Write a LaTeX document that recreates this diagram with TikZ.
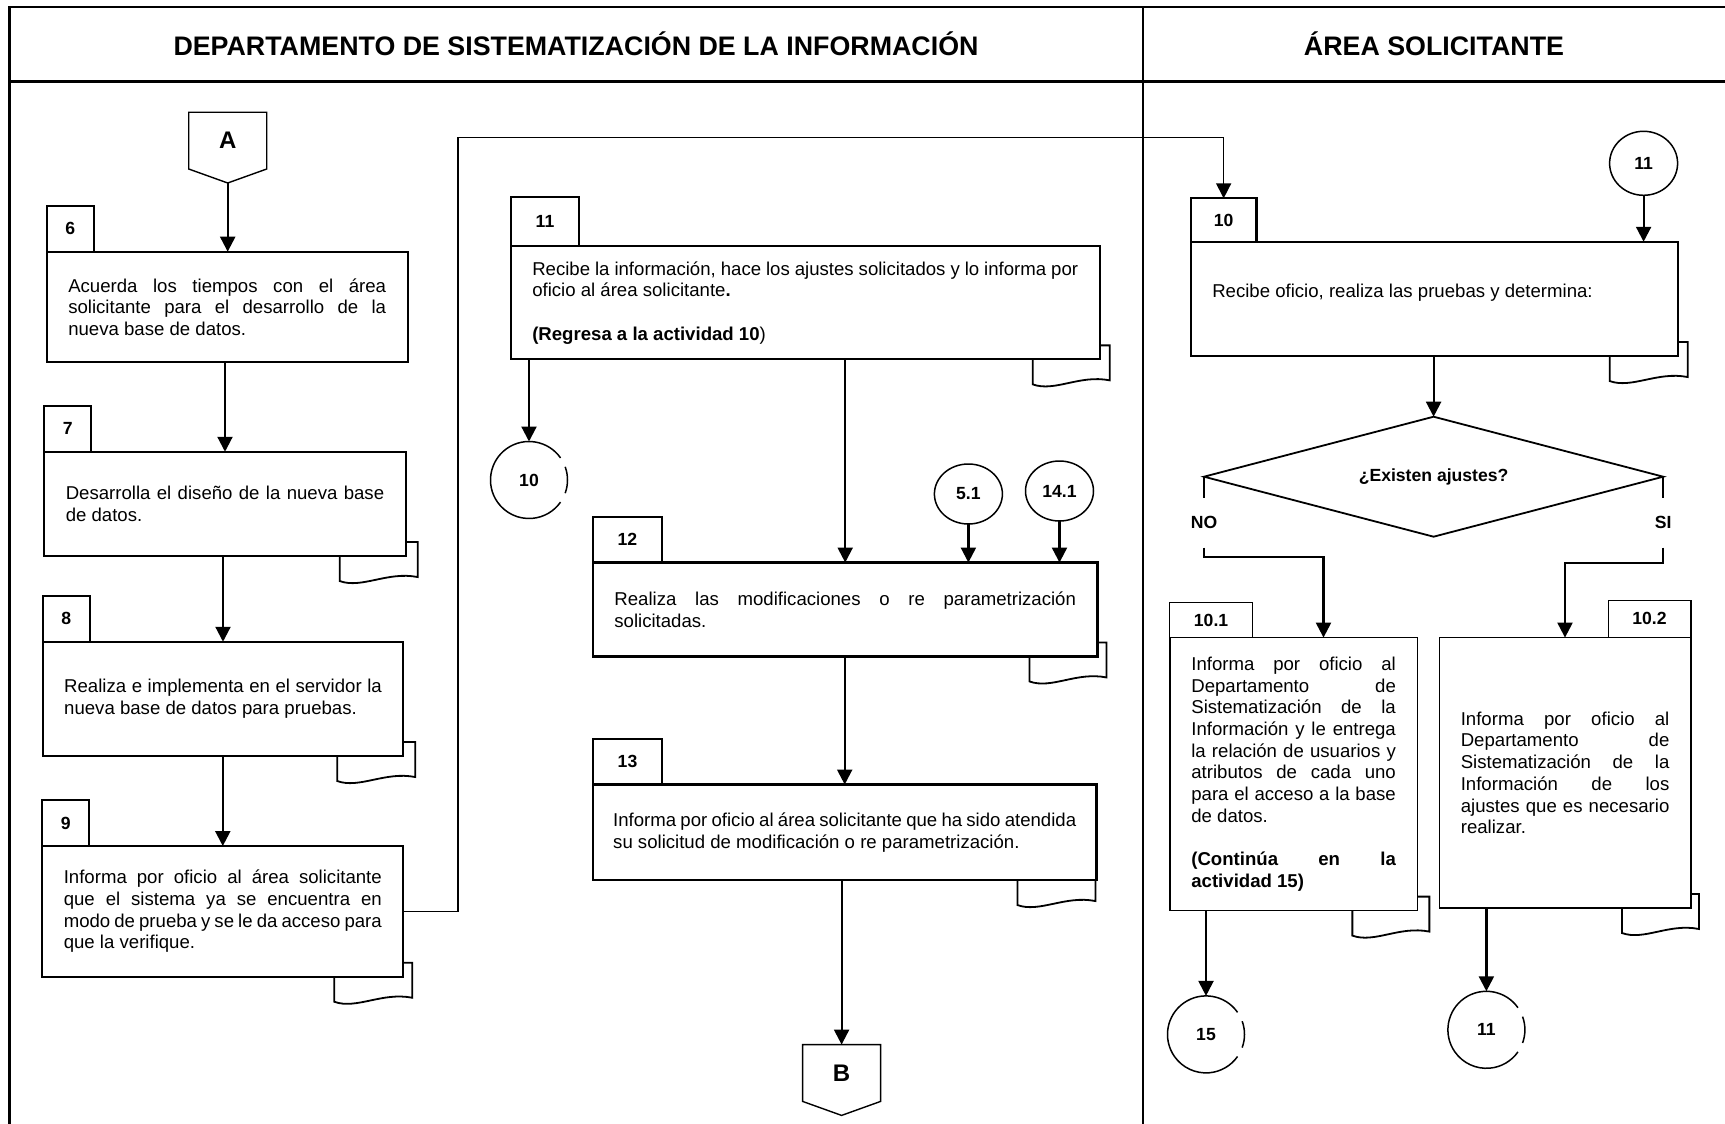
\documentclass[tikz,border=0pt]{standalone}
\usepackage{fontspec}
\setmainfont{Liberation Sans}
\usetikzlibrary{arrows.meta,positioning,shapes.geometric,backgrounds}

\newcommand{\bodyfont}{\fontsize{9.3}{10.85}\selectfont}
\newcommand{\labelfont}{\fontsize{8.8}{10}\selectfont\bfseries}
\newcommand{\docflap}[3]{%
  \fill[white,draw=black,line width=0.9pt,shift={(#1.south east)}]
    (#3,-14) -- (#2,-14) -- (#2,21) .. controls ({#2-30},15) and ({#3+22},33) .. (#3,25) -- cycle;}

\begin{document}
\begin{tikzpicture}[
  x=0.5pt,y=-0.5pt,
  frame/.style={line width=1.35pt},
  lanetitle/.style={font=\fontsize{13.4}{15}\selectfont\bfseries},
  stepbox/.style={draw,line width=1.1pt,fill=white,inner xsep=10.75pt,inner ysep=0pt,outer sep=0pt,align=justify,font=\bodyfont},
  numtab/.style={draw,line width=1.1pt,fill=white,inner sep=0pt,outer sep=0pt,font=\labelfont},
  offpage/.style={minimum width=39pt,minimum height=28.4pt,inner sep=0pt,outer sep=0pt,font=\fontsize{12}{14}\selectfont\bfseries},
  ring/.style={circle,minimum size=38.5pt,inner sep=0pt,outer sep=0pt,font=\labelfont},
  oval/.style={ellipse,draw,line width=0.75pt,minimum width=34pt,minimum height=30pt,inner sep=0pt,outer sep=0pt,font=\labelfont},
  decision/.style={diamond,draw,line width=0.9pt,aspect=3.8,minimum width=229.6pt,minimum height=60pt,inner sep=0pt,outer sep=0pt,font=\labelfont},
  branchlbl/.style={inner sep=0pt,minimum height=24.35pt,font=\labelfont},
  flow/.style={-{Triangle[length=7.5pt,width=7.5pt]},line width=1.1pt},
  link/.style={-{Triangle[length=7.5pt,width=7.5pt]},line width=0.75pt},
  wire/.style={line width=1.1pt}
]
\useasboundingbox (0,0) rectangle (1725,1124);
\draw[frame] (9.5,1124) -- (9.5,7) -- (1725,7);
\draw[frame] (9.5,81.7) -- (1725,81.7);
\draw[frame] (1143,7) -- (1143,1124);
\node[lanetitle] (hdsi) at (576,44) {DEPARTAMENTO DE SISTEMATIZACIÓN DE LA INFORMACIÓN};
\node[lanetitle] (hsol) at (1434,44) {ÁREA SOLICITANTE};

\node[offpage] (conA) at (227.7,140.6) {A};
\node[stepbox,text width=158.95pt,minimum height=55.3pt] (b6) at (227.2,307) {Acuerda los tiempos con el área\linebreak solicitante para el desarrollo de la\linebreak nueva base de datos.};
\node[numtab,minimum width=23.5pt,minimum height=23pt,above right=0pt and 0pt of b6.north west] (t6) {6};
\node[stepbox,text width=159.2pt,minimum height=52.15pt] (b7) at (225,503.9) {Desarrolla el diseño de la nueva base\linebreak de datos.};
\node[numtab,minimum width=23.5pt,minimum height=23pt,above right=0pt and 0pt of b7.north west] (t7) {7};
\node[stepbox,text width=158.8pt,minimum height=57.15pt] (b8) at (223,698.9) {Realiza e implementa en el servidor la\linebreak nueva base de datos para pruebas.};
\node[numtab,minimum width=23.5pt,minimum height=23pt,above right=0pt and 0pt of b8.north west] (t8) {8};
\node[stepbox,text width=159pt,minimum height=65.35pt] (b9) at (222.8,911.4) {Informa por oficio al área solicitante\linebreak que el sistema ya se encuentra en\linebreak modo de prueba y se le da acceso para\linebreak que la verifique.};
\node[numtab,minimum width=23.5pt,minimum height=23pt,above right=0pt and 0pt of b9.north west] (t9) {9};

\node[stepbox,text width=272.95pt,minimum height=56.65pt] (b11) at (805.2,302.7) {Recibe la información, hace los ajustes solicitados y lo informa por\linebreak oficio al área solicitante\textbf{.}\par\vspace{\baselineskip}\textbf{(Regresa a la actividad 10})};
\node[numtab,minimum width=34.25pt,minimum height=24.35pt,above right=0pt and 0pt of b11.north west] (t11) {11};
\node[ring] (c10) at (529,480) {10};
\node[oval] (c51) at (968.4,494) {5.1};
\node[oval] (c141) at (1059.5,491) {14.1};
\node[stepbox,text width=230.8pt,minimum height=46.95pt] (b12) at (845.2,609.5) {Realiza las modificaciones o re parametrización\linebreak solicitadas.};
\node[numtab,minimum width=34.5pt,minimum height=22.9pt,above right=0pt and 0pt of b12.north west] (t12) {12};
\node[stepbox,text width=231.5pt,inner xsep=10.1pt,minimum height=47.75pt] (b13) at (844.7,832.3) {Informa por oficio al área solicitante que ha sido atendida\linebreak su solicitud de modificación o re parametrización.};
\node[numtab,minimum width=34.5pt,minimum height=22.9pt,above right=0pt and 0pt of b13.north west] (t13) {13};
\node[offpage] (conB) at (841.6,1073) {B};

\node[oval,minimum height=32pt] (c11a) at (1643.6,163.3) {11};
\node[stepbox,text width=221.95pt,text depth=8.5pt,minimum height=57.15pt] (b10) at (1434.2,298.9) {Recibe oficio, realiza las pruebas y determina:};
\node[numtab,minimum width=32.9pt,minimum height=21.7pt,above right=0pt and 0pt of b10.north west] (t10) {10};
\node[decision] (dec) at (1433.6,476.7) {¿Existen ajustes?};
\node[branchlbl,below=10.65pt of dec.west] (no) {NO};
\node[branchlbl,below=10.65pt of dec.east] (si) {SI};
\node[stepbox,line width=0.8pt,text width=102.25pt,minimum height=136.5pt] (b101) at (1293.6,774.1) {Informa por oficio al\linebreak Departamento de\linebreak Sistematización de la\linebreak Información y le entrega\linebreak la relación de usuarios y\linebreak atributos de cada uno\linebreak para el acceso a la base\linebreak de datos.\par\vspace{\baselineskip}{\bfseries (Continúa en la\linebreak actividad 15)}};
\node[numtab,line width=0.6pt,minimum width=41.2pt,minimum height=17.5pt,above right=0pt and 0pt of b101.north west] (t101) {10.1};
\node[stepbox,line width=0.8pt,text width=104.3pt,minimum height=135.2pt] (b102) at (1565.1,772.8) {Informa por oficio al\linebreak Departamento de\linebreak Sistematización de la\linebreak Información de los\linebreak ajustes que es necesario\linebreak realizar.};
\node[numtab,line width=0.6pt,minimum width=41.4pt,minimum height=18.7pt,above left=0pt and 0pt of b102.north east] (t102) {10.2};
\node[ring] (c15) at (1206,1034.4) {15};
\node[ring] (c11b) at (1486.4,1029.8) {11};

\foreach \n in {conA,conB}
  \draw[line width=0.7pt] (\n.north west) -- (\n.north east) -- (\n.south east) -- ([yshift=-7pt]\n.south) -- (\n.south west) -- cycle;
\foreach \n in {c10,c15,c11b}{
  \draw[line width=0.75pt] (\n.35) arc[start angle=35,end angle=325,radius=19.25pt];
  \draw[line width=0.75pt] (\n.-20) arc[start angle=-20,end angle=20,radius=19.25pt];
}

\begin{scope}[on background layer]
\docflap{b7}{12}{-66}
\docflap{b8}{12}{-66}
\docflap{b9}{9}{-69}
\docflap{b11}{10}{-67}
\docflap{b12}{9}{-68}
\docflap{b13}{-1}{-79}
\docflap{b10}{10}{-68}
\docflap{b101}{12}{-65}
\docflap{b102}{8}{-69}
\end{scope}

\draw[flow] ([yshift=-7pt]conA.south) -- (conA.south |- b6.north);
\draw[flow] (b7.north |- b6.south) -- (b7.north);
\draw[flow] (b8.north |- b7.south) -- (b8.north);
\draw[flow] (b9.north |- b8.south) -- (b9.north);
\coordinate (loopup) at (458,137.5);
\draw[link] (b9.east) -| (loopup) -| (t10.north);
\draw[flow] (c10 |- b11.south) -- (c10);
\draw[flow] (b12.north |- b11.south) -- (b12.north);
\draw[flow] (c51) -- (c51 |- b12.north);
\draw[flow] (c141) -- (c141 |- b12.north);
\draw[flow] (b13.north |- b12.south) -- (b13.north);
\draw[flow] (conB.north |- b13.south) -- (conB.north);
\draw[flow] (c11a) -- (c11a |- b10.north);
\draw[flow] (dec.north |- b10.south) -- (dec.north);
\draw[wire] (dec.west) -- (no);
\draw[wire] (dec.east) -- (si);
\coordinate (noturn) at (1323.5,556.8);
\coordinate (siturn) at (1565,563);
\draw[flow] (no) |- (noturn) -- (noturn |- b101.north);
\draw[flow] (si) |- (siturn) -- (siturn |- b102.north);
\draw[flow] (c15 |- b101.south) -- (c15);
\draw[flow] (c11b |- b102.south) -- (c11b);
\end{tikzpicture}
\end{document}
